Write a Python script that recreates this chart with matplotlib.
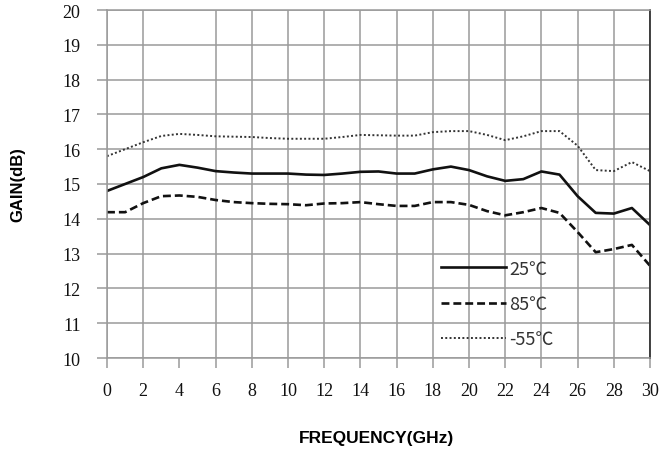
import matplotlib.pyplot as plt
import numpy as np

freq = [0, 1, 2, 3, 4, 5, 6, 7, 8, 9, 10, 11, 12, 13, 14, 15, 16, 17, 18, 19, 20,
        21, 22, 23, 24, 25, 26, 27, 28, 29, 30]
gain_25 = [14.8, 15.0, 15.2, 15.45, 15.55, 15.47, 15.37, 15.33, 15.3, 15.3, 15.3, 15.27, 15.26,
           15.3, 15.35, 15.36, 15.3, 15.3, 15.42, 15.5, 15.4, 15.22, 15.09, 15.14, 15.36,
           15.27, 14.65, 14.17, 14.15, 14.31, 13.82]
gain_85 = [14.19, 14.19, 14.45, 14.65, 14.67, 14.63, 14.54, 14.48, 14.45, 14.43, 14.42, 14.39,
           14.44, 14.45, 14.48, 14.42, 14.37, 14.37, 14.48, 14.48, 14.4, 14.22, 14.1, 14.19,
           14.31, 14.17, 13.62, 13.04, 13.13, 13.25, 12.65]
gain_m55 = [15.8, 16.0, 16.2, 16.38, 16.44, 16.41, 16.37, 16.36, 16.35, 16.32, 16.3, 16.3,
            16.3, 16.35, 16.41, 16.4, 16.39, 16.39, 16.49, 16.52, 16.52, 16.41, 16.26, 16.37,
            16.52, 16.52, 16.1, 15.4, 15.37, 15.63, 15.37]
labels = ['25℃', '85℃', '-55℃']
xticks = np.arange(0, 31, 2)
yticks = np.arange(10, 21, 1)

fig = plt.figure(figsize=(6.7, 4.6), dpi=100)
ax = fig.add_axes([107/670, 1-359/460, 543/670, 348/460])

ax.plot(freq, gain_25, color='#111111', lw=1.9, ls='-', label=labels[0])
ax.plot(freq, gain_85, color='#111111', lw=1.9, ls=(0, (3, 1.5)), label=labels[1])
ax.plot(freq, gain_m55, color='#333333', lw=1.4, ls=(0, (1, 1.2)), label=labels[2])

ax.set_xlim(0, 30)
ax.set_ylim(10, 20)
ax.set_xticks(xticks)
ax.set_yticks(yticks)
ax.grid(True, color='#9a9a9a', lw=1.1)
ax.set_axisbelow(True)
ax.xaxis.get_gridlines()[2].set_visible(False)

for s in ['left', 'top', 'bottom']:
    ax.spines[s].set_color('#9a9a9a')
    ax.spines[s].set_linewidth(1.1)
ax.spines['right'].set_color('#333333')
ax.spines['right'].set_linewidth(1.3)

ax.tick_params(axis='both', length=7, width=1.1, color='#9a9a9a', direction='out',
               labelsize=13, labelcolor='#111111')
ax.tick_params(axis='x', pad=10)
ax.tick_params(axis='y', pad=12)
for t in ax.get_xticklabels() + ax.get_yticklabels():
    t.set_family('Liberation Serif')

leg = ax.legend(loc='lower left', bbox_to_anchor=(0.585, -0.018), frameon=False,
                handlelength=3.6, labelspacing=0.95, handletextpad=0.2,
                prop={'family': ['Noto Sans CJK SC', 'DejaVu Sans'], 'size': 13})
for t in leg.get_texts():
    t.set_color('#333333')

fig.text(18/670, 1-185/460, 'GAIN(dB)', rotation=90, ha='center', va='center',
         fontsize=12, fontweight='bold', family='Liberation Sans')
fig.text(377/670, 1-438/460, 'FREQUENCY(GHz)', ha='center', va='center',
         fontsize=12.5, fontweight='bold', family='Liberation Sans')

fig.savefig('out.png', dpi=100)
